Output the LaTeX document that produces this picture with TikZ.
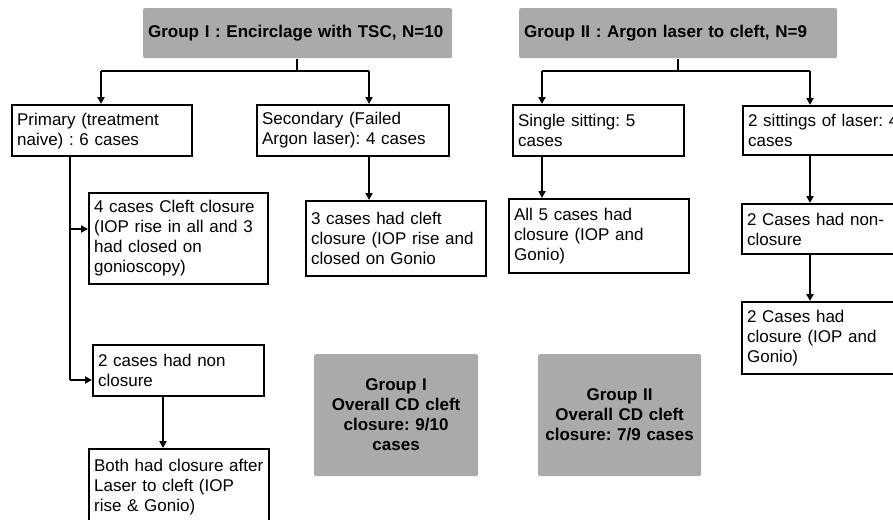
\documentclass[tikz,border=0pt]{standalone}
\usepackage{fontspec}
\setmainfont{Liberation Sans}
\frenchspacing
\usetikzlibrary{arrows.meta}
\definecolor{boxgray}{HTML}{AAAAAA}
\tikzstyle{casebox}=[draw, line width=2.2pt, anchor=north west, align=left, inner sep=5pt, font=\fontsize{17}{20}\selectfont]
\tikzstyle{groupbox}=[fill=boxgray, rounded corners=2pt, anchor=north west, inner sep=5pt, font=\bfseries\fontsize{17}{20}\selectfont]
\tikzstyle{arr}=[-{Triangle[length=7pt,width=7pt]}]

\begin{document}
\begin{tikzpicture}[x=1pt, y=-1pt, line width=2.2pt]
                \useasboundingbox (0,0) rectangle (893,519);
                \node[groupbox, align=left, text width=299, minimum height=50] (g1) at (142,7) {Group I : Encirclage with TSC, N=10};
                \node[groupbox, align=left, text width=308, minimum height=50] (g2) at (518,7) {Group II : Argon laser to cleft, N=9};
                \node[casebox, text width=170, minimum height=51] (prim) at (11,104) {Primary (treatment\\naive) : 6 cases};
                \node[casebox, text width=182, minimum height=51] (sec) at (256,104) {Secondary (Failed\\Argon laser): 4 cases};
                \node[casebox, text width=161, minimum height=51] (single) at (512,104) {Single sitting: 5\\cases};
                \node[casebox, text width=200, minimum height=49] (twosit) at (742,105) {2 sittings of laser: 4\\cases};
                \node[casebox, text width=169, minimum height=91] (four) at (88,192) {4 cases Cleft closure\\(IOP rise in all and 3\\had  closed on\\gonioscopy)};
                \node[casebox, text width=170, minimum height=75] (three) at (305,200) {3 cases had cleft\\closure (IOP rise and\\closed on Gonio};
                \node[casebox, text width=170, minimum height=74] (allfive) at (508,198) {All 5 cases had\\closure (IOP and\\Gonio)};
                \node[casebox, text width=200, minimum height=50] (noncl2) at (741,203) {2 Cases had non-\\closure};
                \node[casebox, text width=200, minimum height=72] (clos2) at (741,301) {2 Cases had\\closure (IOP and\\Gonio)};
                \node[casebox, text width=161, minimum height=51] (noncl1) at (92,344) {2 cases had non\\closure};
                \node[casebox, text width=170, minimum height=76] (both) at (88,448) {Both had closure after\\Laser to cleft (IOP\\rise \& Gonio)};
                \node[groupbox, align=center, text width=154, minimum height=122] (over1) at (313,353) {Group I\\Overall CD cleft\\closure: 9/10\\cases};
                \node[groupbox, align=center, text width=153, minimum height=122] (over2) at (537,353) {Group II\\Overall CD cleft\\closure: 7/9 cases};
                \coordinate (s1) at (297,71);
                \coordinate (s1l) at (101,71);
                \coordinate (s1r) at (369,71);
                \coordinate (s2) at (678,71);
                \coordinate (s2l) at (542,71);
                \coordinate (s2r) at (810,71);
                \coordinate (pfour) at (70,229);
                \coordinate (pturn) at (70,380);
                \coordinate (ndrop) at (163,420);
                \draw (g1.south -| s1)--(s1);
                \draw (s1l)--(s1r);
                \draw[arr] (s1l)--(s1l |- prim.north);
                \draw[arr] (s1r)--(s1r |- sec.north);
                \draw (g2.south -| s2)--(s2);
                \draw (s2l)--(s2r);
                \draw[arr] (s2l)--(s2l |- single.north);
                \draw[arr] (s2r)--(s2r |- twosit.north);
                \draw (prim.south -| pturn)--(pturn);
                \draw[arr] (pfour)--(pfour -| four.west);
                \draw[arr] (pturn)--(pturn -| noncl1.west);
                \draw[arr] (noncl1.south -| ndrop)--(both.north -| ndrop);
                \draw[arr] (sec.south -| s1r)--(three.north -| s1r);
                \draw[arr] (single.south -| s2l)--(allfive.north -| s2l);
                \draw[arr] (twosit.south -| s2r)--(noncl2.north -| s2r);
                \draw[arr] (noncl2.south -| s2r)--(clos2.north -| s2r);
            \end{tikzpicture}
\end{document}
